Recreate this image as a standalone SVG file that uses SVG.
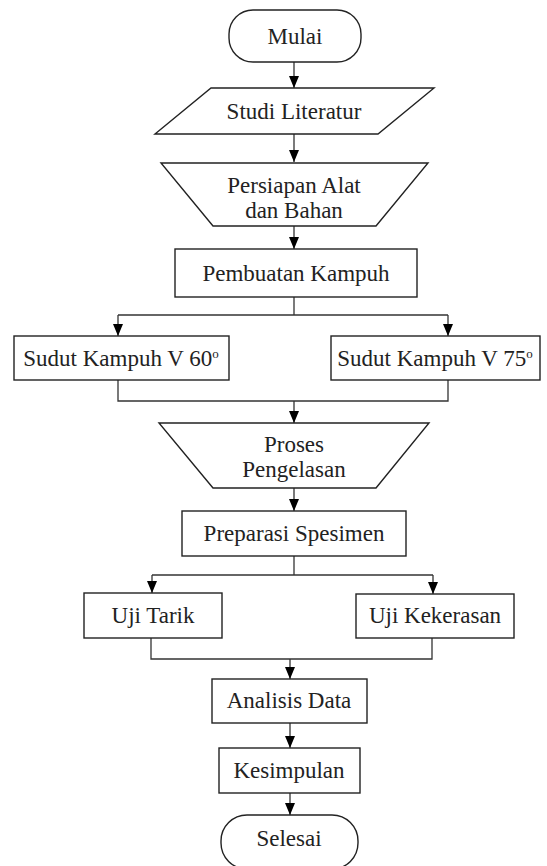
<svg xmlns="http://www.w3.org/2000/svg" width="547" height="866" viewBox="0 0 547 866">
<style>
.shape{fill:#fff;stroke:#222;stroke-width:1.4}
.lbl{font-family:"Liberation Serif","Times New Roman",serif;font-size:23px;fill:#222;text-anchor:middle}
.conn{fill:none;stroke:#333;stroke-width:1.3}
.sup{font-size:13px}
</style>
<defs>
<marker id="ah" viewBox="0 0 12 10" refX="12" refY="5" markerWidth="12" markerHeight="10" markerUnits="userSpaceOnUse" orient="auto">
<path d="M0,0 L12,5 L0,10 Z" fill="#000"/>
</marker>
</defs>
<rect width="547" height="866" fill="#fff"/>
<g id="connectors">
<path class="conn" d="M294,62 V88" marker-end="url(#ah)"/>
<path class="conn" d="M294,134 V162" marker-end="url(#ah)"/>
<path class="conn" d="M294,226 V249" marker-end="url(#ah)"/>
<path class="conn" d="M294,297 V315"/>
<path class="conn" d="M118,315 H448"/>
<path class="conn" d="M118,315 V336" marker-end="url(#ah)"/>
<path class="conn" d="M448,315 V336" marker-end="url(#ah)"/>
<path class="conn" d="M118,380 V401 H448 V380"/>
<path class="conn" d="M294,401 V423" marker-end="url(#ah)"/>
<path class="conn" d="M294,488 V511" marker-end="url(#ah)"/>
<path class="conn" d="M294,556 V575"/>
<path class="conn" d="M152,575 H433"/>
<path class="conn" d="M152,575 V593" marker-end="url(#ah)"/>
<path class="conn" d="M433,575 V594" marker-end="url(#ah)"/>
<path class="conn" d="M151,638 V659 H432 V638"/>
<path class="conn" d="M290,659 V679" marker-end="url(#ah)"/>
<path class="conn" d="M290,723 V748" marker-end="url(#ah)"/>
<path class="conn" d="M290,793 V815" marker-end="url(#ah)"/>
</g>
<g id="mulai">
<rect class="shape" x="229" y="10" width="132" height="52" rx="24"/>
<text class="lbl" x="295" y="44">Mulai</text>
</g>
<g id="studi">
<polygon class="shape" points="211,88 434,88 378,134 155,134"/>
<text class="lbl" x="294" y="119">Studi Literatur</text>
</g>
<g id="persiapan">
<polygon class="shape" points="161,163 428,163 376,226 213,226"/>
<text class="lbl" x="294" y="193">Persiapan Alat</text>
<text class="lbl" x="294" y="218">dan Bahan</text>
</g>
<g id="pembuatan">
<rect class="shape" x="175" y="249" width="242" height="48"/>
<text class="lbl" x="296" y="281">Pembuatan Kampuh</text>
</g>
<g id="sudut60">
<rect class="shape" x="14" y="336" width="215" height="44"/>
<text class="lbl" x="121" y="366">Sudut Kampuh V 60<tspan class="sup" dy="-8">o</tspan></text>
</g>
<g id="sudut75">
<rect class="shape" x="331" y="336" width="209" height="44"/>
<text class="lbl" x="435" y="366">Sudut Kampuh V 75<tspan class="sup" dy="-8">o</tspan></text>
</g>
<g id="proses">
<polygon class="shape" points="159,423 429,423 376,488 213,488"/>
<text class="lbl" x="294" y="452">Proses</text>
<text class="lbl" x="294" y="477">Pengelasan</text>
</g>
<g id="preparasi">
<rect class="shape" x="182" y="511" width="224" height="45"/>
<text class="lbl" x="294" y="541">Preparasi Spesimen</text>
</g>
<g id="ujitarik">
<rect class="shape" x="84" y="593" width="138" height="45"/>
<text class="lbl" x="153" y="623">Uji Tarik</text>
</g>
<g id="ujikekerasan">
<rect class="shape" x="356" y="594" width="158" height="44"/>
<text class="lbl" x="435" y="623">Uji Kekerasan</text>
</g>
<g id="analisis">
<rect class="shape" x="212" y="679" width="155" height="44"/>
<text class="lbl" x="289" y="708">Analisis Data</text>
</g>
<g id="kesimpulan">
<rect class="shape" x="219" y="748" width="141" height="45"/>
<text class="lbl" x="289" y="778">Kesimpulan</text>
</g>
<g id="selesai">
<rect class="shape" x="221" y="815" width="137" height="54" rx="26"/>
<text class="lbl" x="289" y="846">Selesai</text>
</g>
</svg>
